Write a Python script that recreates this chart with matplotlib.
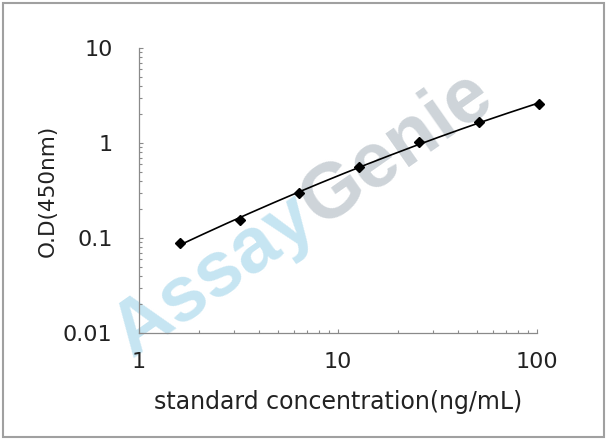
import numpy as np
import matplotlib
matplotlib.use("Agg")
from matplotlib import pyplot as plt
from matplotlib.patches import Rectangle
from matplotlib.ticker import LogLocator, NullFormatter, FixedLocator, FixedFormatter

plt.rcParams['font.family'] = ['DejaVu Sans']

# standard curve readings
conc = [1.6, 3.2, 6.4, 12.8, 25.6, 51.2, 102.4]
od = [0.088, 0.155, 0.298, 0.555, 1.025, 1.65, 2.57]
xticks = [1, 10, 100]
xticklabels = ["1", "10", "100"]
yticks = [0.01, 0.1, 1, 10]
yticklabels = ["0.01", "0.1", "1", "10"]

W, H = 608, 441
fig = plt.figure(figsize=(W / 100, H / 100), dpi=100)
ax = fig.add_axes([139 / W, 1 - 333 / H, (537 - 139) / W, (333 - 48) / H])

ax.set_xscale('log')
ax.set_yscale('log')
ax.set_xlim(1, 100)
ax.set_ylim(0.01, 10)
ax.set_facecolor('none')

# watermark, drawn inside the axes so it sits behind the curve
ang = 35
wm_size = 56
wm_font = 'Liberation Sans'
renderer = fig.canvas.get_renderer()
x0, y0 = 132, 82  # pixel coords of start of baseline (from bottom)
ax.text(x0 / W, y0 / H, "Assay", fontsize=wm_size, fontweight='bold', family=wm_font,
        color='#c6e5f2', rotation=ang, rotation_mode='anchor',
        ha='left', va='baseline', transform=fig.transFigure, clip_on=False, zorder=0)
tmp = fig.text(0, 0, "Assay", fontsize=wm_size, fontweight='bold', family=wm_font)
w = tmp.get_window_extent(renderer).width
tmp.remove()
x1 = x0 + w * np.cos(np.radians(ang))
y1 = y0 + w * np.sin(np.radians(ang))
ax.text(x1 / W, y1 / H, "Genie", fontsize=wm_size, fontweight='bold', family=wm_font,
        color='#ced4d9', rotation=ang, rotation_mode='anchor',
        ha='left', va='baseline', transform=fig.transFigure, clip_on=False, zorder=0)

# fitted curve (quadratic in log-log space)
lx = np.log10(conc)
ly = np.log10(od)
c = np.polyfit(lx, ly, 2)
xs = np.linspace(lx[0], lx[-1], 200)
ax.plot(10 ** xs, 10 ** np.polyval(c, xs), color='black', lw=1.2, clip_on=False, zorder=3)
ax.plot(conc, od, 'D', color='black', ms=5.5, clip_on=False, zorder=4)

for s in ['top', 'right']:
    ax.spines[s].set_visible(False)
for s in ['left', 'bottom']:
    ax.spines[s].set_color('#8a8a8a')
    ax.spines[s].set_linewidth(0.9)

ax.xaxis.set_major_locator(FixedLocator(xticks))
ax.xaxis.set_major_formatter(FixedFormatter(xticklabels))
ax.yaxis.set_major_locator(FixedLocator(yticks))
ax.yaxis.set_major_formatter(FixedFormatter(yticklabels))
ax.xaxis.set_minor_locator(LogLocator(base=10, subs=np.arange(2, 10)))
ax.yaxis.set_minor_locator(LogLocator(base=10, subs=np.arange(2, 10)))
ax.xaxis.set_minor_formatter(NullFormatter())
ax.yaxis.set_minor_formatter(NullFormatter())
ax.tick_params(which='both', direction='in', color='#8a8a8a', width=0.8)
ax.tick_params(which='major', length=3, labelsize=16, labelcolor='#222222')
ax.tick_params(which='minor', length=2.5)
ax.tick_params(axis='y', which='major', pad=19)
ax.tick_params(axis='x', which='major', pad=14)

ax.set_xlabel("standard concentration(ng/mL)", fontsize=17, color='#222222', labelpad=13)
ax.set_ylabel("O.D(450nm)", fontsize=15.5, color='#222222', labelpad=4)

fig.patches.append(Rectangle((3 / W, 4 / H), 601 / W, 434 / H, transform=fig.transFigure,
                             fill=False, edgecolor='#a0a0a0', lw=1.5))

fig.savefig("out.png", dpi=100)
